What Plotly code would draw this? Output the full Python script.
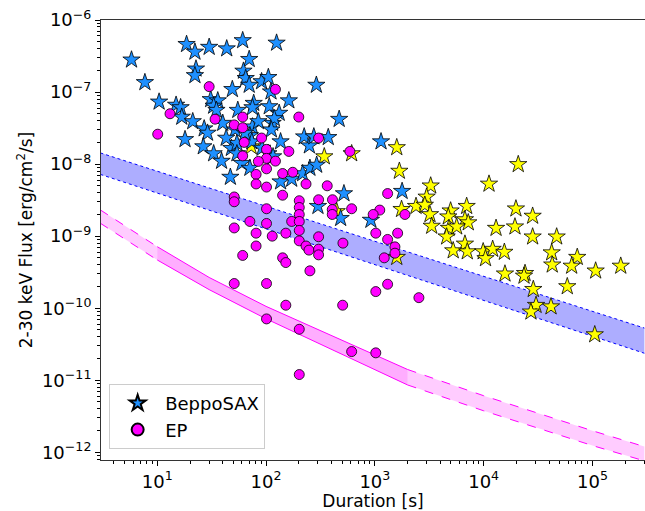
import plotly.graph_objects as go

# ---------------- data ----------------
# BeppoSAX (blue stars): duration [s], flux [erg/cm2/s]
sax_dur = [5.8, 7.7, 18.6, 22.2, 30, 43.5, 61, 125, 70, 22.7, 22.2, 62, 65, 70, 91, 105, 111, 49, 290,
           10.4, 14.9, 16.4, 16.8, 21.2, 31, 36, 33, 35, 55, 77, 75, 107, 132, 162, 40, 27, 29, 18, 26.5,
           33, 39, 48, 54, 52, 75, 85, 115, 119, 112, 71, 74, 54, 60, 71, 105, 136, 224, 250, 275, 373,
           470, 47, 136, 172, 217, 253, 292, 520, 116, 1140, 300, 485, 920, 1780, 43, 92, 64]
sax_flux = [2.8e-7, 1.36e-7, 4.6e-7, 3.6e-7, 4.2e-7, 4.0e-7, 5.2e-7, 4.8e-7, 2.85e-7, 2.1e-7, 1.7e-7,
            1.96e-7, 1.55e-7, 1.25e-7, 1.4e-7, 1.6e-7, 1.01e-7, 1.09e-7, 1.25e-7,
            7.3e-8, 6.6e-8, 6.1e-8, 4.5e-8, 3.9e-8, 7.9e-8, 7.6e-8, 6.4e-8, 5.6e-8, 5.6e-8, 7.0e-8,
            6.1e-8, 6.3e-8, 5.1e-8, 7.6e-8, 3.7e-8, 3.1e-8, 2.7e-8, 2.2e-8, 1.75e-8,
            1.4e-8, 1.1e-8, 1.66e-8, 1.95e-8, 3.0e-8, 3.3e-8, 3.9e-8, 3.7e-8, 4.3e-8, 3.0e-8, 2.5e-8,
            2.05e-8, 1.4e-8, 1.03e-8, 8.8e-9, 1.4e-8, 2.05e-8, 2.4e-8, 1.8e-8, 2.4e-8, 2.35e-8,
            4.2e-8, 6.6e-9, 5.7e-9, 6.2e-9, 7.4e-9, 8.8e-9, 9.7e-9, 3.9e-9, 1.27e-8, 2.05e-8,
            2.6e-9, 1.77e-9, 1.67e-9, 4.2e-9, 2.3e-8, 1.67e-8, 2.7e-8]

# EP (magenta circles)
ep_dur = [30, 122, 13.1, 10.1, 34, 61, 51, 61, 200, 91, 63, 61, 101, 101, 122, 162, 85, 101, 81, 81,
          101, 142, 176, 142, 233, 365, 304, 202, 304, 408, 590, 51, 51, 202, 101, 202, 406, 406, 612,
          1310, 1110, 965, 1890, 71, 172, 202, 51, 101, 81, 114, 152, 202, 304, 202, 509, 1020, 1620,
          1310, 81, 233, 248, 304, 304, 61, 142, 152, 253, 1220, 1530, 1530, 51, 101, 1020, 1310,
          2540, 152, 506, 101, 202, 612, 1020, 202]
ep_flux = [1.19e-7, 1.09e-7, 5.0e-8, 2.6e-8, 4.2e-8, 4.5e-8, 3.5e-8, 3.2e-8, 4.5e-8, 2.3e-8, 2.0e-8,
           1.3e-8, 1.6e-8, 1.2e-8, 1.1e-8, 1.5e-8, 1.09e-8, 8.6e-9, 7.2e-9, 5.3e-9, 4.8e-9, 7.4e-9,
           7.7e-9, 3.7e-9, 5.3e-9, 5.0e-9, 2.3e-8, 3.1e-9, 3.2e-9, 3.2e-9, 1.5e-8, 3.5e-9, 3.0e-9,
           2.5e-9, 2.4e-9, 2.0e-9, 2.34e-9, 2.0e-9, 2.4e-9, 3.9e-9, 2.3e-9, 2.0e-9, 2.0e-9, 1.6e-9,
           1.6e-9, 1.6e-9, 1.3e-9, 1.5e-9, 1.1e-9, 1.0e-9, 1.1e-9, 1.2e-9, 9.8e-10, 8.6e-10, 8.0e-10,
           1.1e-9, 1.1e-9, 9.0e-10, 7.3e-10, 7.3e-10, 6.4e-10, 6.6e-10, 5.5e-10, 5.4e-10, 5.0e-10,
           4.3e-10, 3.3e-10, 5.0e-10, 7.1e-10, 5.8e-10, 2.2e-10, 2.2e-10, 1.7e-10, 2.15e-10, 1.4e-10,
           1.1e-10, 1.1e-10, 7.1e-11, 5.1e-11, 2.5e-11, 2.4e-11, 1.2e-11]

# Other sample (yellow stars, not in legend)
oth_dur = [612, 343, 1590, 1680, 2.08e4, 1.12e4, 3260, 2990, 2390, 2880, 1760, 446, 4970, 6980, 3210,
           4730, 6730, 7220, 3330, 4800, 5650, 4570, 1.3e4, 1.94e4, 1.98e4, 2.82e4, 2.82e4, 4.69e4,
           6730, 5250, 7070, 9900, 1.21e4, 1.04e4, 1.55e4, 4.22e4, 7.25e4, 4.27e4, 6.44e4, 1.07e5,
           1.82e5, 1.57e4, 2.4e4, 2.35e4, 2.86e4, 5.87e4, 3.03e4, 2.72e4, 4.16e4, 1.05e5, 1590, 73]
oth_flux = [1.4e-8, 1.27e-8, 1.7e-8, 8.0e-9, 9.9e-9, 5.3e-9, 5.0e-9, 3.5e-9, 2.6e-9, 2.7e-9, 2.36e-9,
            2.2e-9, 2.25e-9, 2.6e-9, 2.0e-9, 1.86e-9, 1.7e-9, 1.54e-9, 1.38e-9, 1.29e-9, 1.35e-9,
            9.8e-10, 1.29e-9, 1.35e-9, 2.4e-9, 1.9e-9, 9.8e-10, 9.8e-10, 7.8e-10, 6.3e-10, 6.1e-10,
            6.1e-10, 6.6e-10, 4.9e-10, 6.0e-10, 5.9e-10, 5.1e-10, 4.0e-10, 3.85e-10, 3.3e-10, 3.85e-10,
            3.0e-10, 3.05e-10, 2.8e-10, 1.83e-10, 2.0e-10, 1.1e-10, 8.9e-11, 1.05e-10, 4.3e-11,
            5.1e-10, 1.75e-8]

# BeppoSAX sensitivity band
sax_sens_dur = [3, 3e5]
sax_sens_hi = [1.43e-8, 5.3e-11]
sax_sens_lo = [7.2e-9, 2.37e-11]

# EP sensitivity band (solid between 10 s and 2000 s, extrapolated outside)
ep_sens_dur = [3, 10, 30, 100, 300, 1000, 2000, 1e4, 1e5, 3e5]
ep_sens_hi = [2.31e-9, 7.14e-10, 2.67e-10, 1.06e-10, 5.05e-11, 2.24e-11, 1.41e-11, 6.1e-12, 1.99e-12, 1.2e-12]
ep_sens_lo = [1.51e-9, 4.67e-10, 1.81e-10, 7.13e-11, 3.29e-11, 1.41e-11, 8.6e-12, 3.77e-12, 1.24e-12, 7.6e-13]

x_ticks = [10, 100, 1000, 1e4, 1e5]
x_ticktext = ["10<sup>1</sup>", "10<sup>2</sup>", "10<sup>3</sup>", "10<sup>4</sup>", "10<sup>5</sup>"]
y_ticks = [1e-12, 1e-11, 1e-10, 1e-9, 1e-8, 1e-7, 1e-6]
y_ticktext = ["10<sup>−12</sup>", "10<sup>−11</sup>", "10<sup>−10</sup>", "10<sup>−9</sup>",
              "10<sup>−8</sup>", "10<sup>−7</sup>", "10<sup>−6</sup>"]

# ---------------- figure ----------------
FONT = "DejaVu Sans"
fig = go.Figure()

# BeppoSAX band
fig.add_trace(go.Scatter(x=sax_sens_dur, y=sax_sens_lo, mode="lines",
                         line=dict(color="blue", width=1, dash="dot"), showlegend=False, hoverinfo="skip"))
fig.add_trace(go.Scatter(x=sax_sens_dur, y=sax_sens_hi, mode="lines", fill="tonexty",
                         fillcolor="rgba(0,0,255,0.32)",
                         line=dict(color="blue", width=1, dash="dot"), showlegend=False, hoverinfo="skip"))

# EP band segments
segments = [(0, 2, "dash", "rgba(255,0,255,0.2)"),
            (1, 7, "solid", "rgba(255,0,255,0.32)"),
            (6, len(ep_sens_dur), "dash", "rgba(255,0,255,0.2)")]
for i0, i1, dash, fc in segments:
    fig.add_trace(go.Scatter(x=ep_sens_dur[i0:i1], y=ep_sens_lo[i0:i1], mode="lines",
                             line=dict(color="magenta", width=1, dash=dash),
                             showlegend=False, hoverinfo="skip"))
    fig.add_trace(go.Scatter(x=ep_sens_dur[i0:i1], y=ep_sens_hi[i0:i1], mode="lines", fill="tonexty",
                             fillcolor=fc, line=dict(color="magenta", width=1, dash=dash),
                             showlegend=False, hoverinfo="skip"))

# scatter
fig.add_trace(go.Scatter(x=oth_dur, y=oth_flux, mode="markers", showlegend=False,
                         marker=dict(symbol="star", size=13, color="#ffff00",
                                     line=dict(color="black", width=0.8))))
fig.add_trace(go.Scatter(x=sax_dur, y=sax_flux, mode="markers", name="BeppoSAX",
                         marker=dict(symbol="star", size=13, color="#1e90ff",
                                     line=dict(color="black", width=0.8))))
fig.add_trace(go.Scatter(x=ep_dur, y=ep_flux, mode="markers", name="EP",
                         marker=dict(symbol="circle", size=10, color="#ff00ff",
                                     line=dict(color="black", width=0.8))))

x_minor = [m * 10 ** d for d in range(0, 6) for m in range(2, 10)]
y_minor = [m * 10.0 ** d for d in range(-13, -5) for m in range(2, 10)]

fig.update_layout(
    width=645, height=511,
    margin=dict(l=101, r=0, t=20, b=51),
    paper_bgcolor="white", plot_bgcolor="white",
    font=dict(family=FONT, size=18, color="black"),
    showlegend=True,
    legend=dict(x=0.015, y=0.025, xanchor="left", yanchor="bottom",
                bgcolor="white", bordercolor="#cccccc", borderwidth=1,
                traceorder="normal", itemwidth=45,
                font=dict(size=18), itemsizing="constant"),
    xaxis=dict(type="log", range=[0.483, 5.483],
               tickmode="array", tickvals=x_ticks, ticktext=x_ticktext,
               ticks="outside", ticklen=5, tickwidth=1, tickcolor="black",
               tickfont=dict(size=18),
               showline=True, linecolor="#333333", linewidth=1, mirror=True,
               showgrid=False, zeroline=False,
               minor=dict(tickmode="array", tickvals=x_minor, ticks="outside", ticklen=3,
                          tickwidth=0.8, tickcolor="black", showgrid=False),
               title=dict(text="Duration [s]", standoff=2, font=dict(size=17))),
    yaxis=dict(type="log", range=[-12.107, -6],
               tickmode="array", tickvals=y_ticks, ticktext=y_ticktext,
               ticks="outside", ticklen=5, tickwidth=1, tickcolor="black",
               tickfont=dict(size=18),
               showline=True, linecolor="#333333", linewidth=1, mirror=False,
               showgrid=False, zeroline=False,
               minor=dict(tickmode="array", tickvals=y_minor, ticks="outside", ticklen=3,
                          tickwidth=0.8, tickcolor="black", showgrid=False),
               title=dict(text="2-30 keV Flux [erg/cm<sup>2</sup>/s]", standoff=4, font=dict(size=17))),
)

fig.write_html("out.html")
